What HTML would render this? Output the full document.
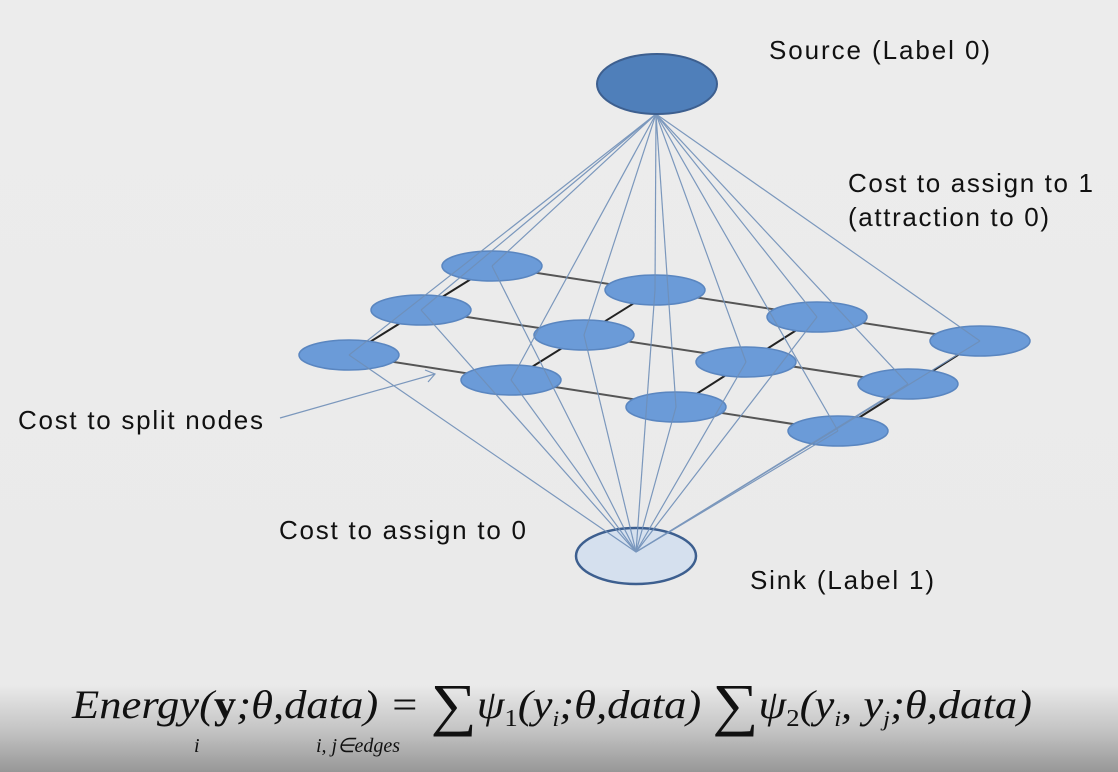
<!DOCTYPE html>
<html><head><meta charset="utf-8"><style>
body{margin:0;width:1118px;height:772px;overflow:hidden;background:linear-gradient(to bottom,#ececec 0,#eaeaea 685px,#c4c4c4 730px,#979797 772px);font-family:"Liberation Sans",sans-serif;}
svg{position:absolute;left:0;top:0}
</style></head><body>
<svg width="1118" height="772" xmlns="http://www.w3.org/2000/svg">
<g stroke="#555" stroke-width="2">
<line x1="492" y1="266" x2="980" y2="341"/>
<line x1="421" y1="310" x2="908" y2="384"/>
<line x1="349" y1="355" x2="838" y2="431"/>
<line x1="492" y1="266" x2="349" y2="355" stroke="#222"/>
<line x1="655" y1="290" x2="511" y2="380" stroke="#222"/>
<line x1="817" y1="317" x2="676" y2="407" stroke="#222"/>
<line x1="980" y1="341" x2="838" y2="431" stroke="#222"/>
</g>
<ellipse cx="636" cy="556" rx="60" ry="28" fill="#d5e0ee" stroke="#3d5f8f" stroke-width="2.5"/>
<g fill="#6b9bd8" stroke="#5a86c0" stroke-width="1.5">
<ellipse cx="492" cy="266" rx="50" ry="15"/><ellipse cx="655" cy="290" rx="50" ry="15"/><ellipse cx="817" cy="317" rx="50" ry="15"/><ellipse cx="980" cy="341" rx="50" ry="15"/>
<ellipse cx="421" cy="310" rx="50" ry="15"/><ellipse cx="584" cy="335" rx="50" ry="15"/><ellipse cx="746" cy="362" rx="50" ry="15"/><ellipse cx="908" cy="384" rx="50" ry="15"/>
<ellipse cx="349" cy="355" rx="50" ry="15"/><ellipse cx="511" cy="380" rx="50" ry="15"/><ellipse cx="676" cy="407" rx="50" ry="15"/><ellipse cx="838" cy="431" rx="50" ry="15"/>
</g>
<g stroke="#6f8fb8" stroke-width="1.2" opacity="0.9">
<line x1="656" y1="114" x2="492" y2="266"/><line x1="656" y1="114" x2="655" y2="290"/><line x1="656" y1="114" x2="817" y2="317"/><line x1="656" y1="114" x2="980" y2="341"/>
<line x1="656" y1="114" x2="421" y2="310"/><line x1="656" y1="114" x2="584" y2="335"/><line x1="656" y1="114" x2="746" y2="362"/><line x1="656" y1="114" x2="908" y2="384"/>
<line x1="656" y1="114" x2="349" y2="355"/><line x1="656" y1="114" x2="511" y2="380"/><line x1="656" y1="114" x2="676" y2="407"/><line x1="656" y1="114" x2="838" y2="431"/>
<line x1="636" y1="552" x2="492" y2="266"/><line x1="636" y1="552" x2="655" y2="290"/><line x1="636" y1="552" x2="817" y2="317"/><line x1="636" y1="552" x2="980" y2="341"/>
<line x1="636" y1="552" x2="421" y2="310"/><line x1="636" y1="552" x2="584" y2="335"/><line x1="636" y1="552" x2="746" y2="362"/><line x1="636" y1="552" x2="908" y2="384"/>
<line x1="636" y1="552" x2="349" y2="355"/><line x1="636" y1="552" x2="511" y2="380"/><line x1="636" y1="552" x2="676" y2="407"/><line x1="636" y1="552" x2="838" y2="431"/>
<line x1="280" y1="418" x2="435" y2="374"/><polyline points="425,370 435,374 428,382" fill="none"/>
</g>
<ellipse cx="657" cy="84" rx="60" ry="30" fill="#4f7fba" stroke="#3d5f8f" stroke-width="2"/>
<g font-family="Liberation Sans, sans-serif" font-size="26" fill="#111" lengthAdjust="spacingAndGlyphs">
<text x="769" y="59" textLength="221">Source (Label 0)</text>
<text x="848" y="192" textLength="245">Cost to assign to 1</text>
<text x="848" y="226" textLength="201">(attraction to 0)</text>
<text x="18" y="429" textLength="245">Cost to split nodes</text>
<text x="279" y="539" textLength="247">Cost to assign to 0</text>
<text x="750" y="589" textLength="184">Sink (Label 1)</text>
</g>
<g font-family="Liberation Serif, serif" font-style="italic" fill="#111">
<text x="72" y="718" font-size="40" textLength="960" lengthAdjust="spacingAndGlyphs">Energy(<tspan font-weight="bold" font-style="normal">y</tspan>;θ,data) = <tspan font-size="58" font-style="normal" dy="6">∑</tspan><tspan dy="-6">ψ</tspan><tspan font-size="24" font-style="normal" dy="8">1</tspan><tspan dy="-8">(y</tspan><tspan font-size="22" dy="8">i</tspan><tspan dy="-8">;θ,data)  </tspan><tspan font-size="58" font-style="normal" dy="6">∑</tspan><tspan dy="-6">ψ</tspan><tspan font-size="24" font-style="normal" dy="8">2</tspan><tspan dy="-8">(y</tspan><tspan font-size="22" dy="8">i</tspan><tspan dy="-8">, y</tspan><tspan font-size="22" dy="8">j</tspan><tspan dy="-8">;θ,data)</tspan></text>
<text x="194" y="752" font-size="20">i</text>
<text x="316" y="752" font-size="20">i, j∈edges</text>
</g>
</svg>
</body></html>
